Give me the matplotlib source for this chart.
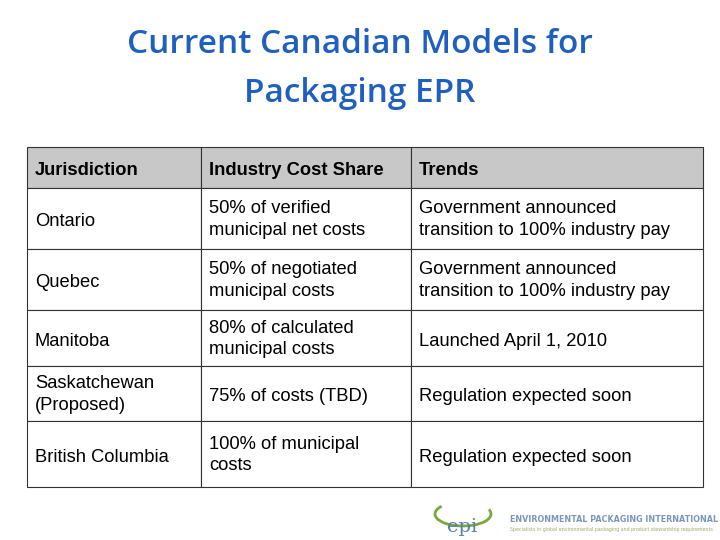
import matplotlib.pyplot as plt
from matplotlib.patches import Rectangle, Arc

title = "Current Canadian Models for\nPackaging EPR"
headers = ["Jurisdiction", "Industry Cost Share", "Trends"]
jurisdictions = ["Ontario", "Quebec", "Manitoba", "Saskatchewan\n(Proposed)", "British Columbia"]
cost_shares = [
    "50% of verified\nmunicipal net costs",
    "50% of negotiated\nmunicipal costs",
    "80% of calculated\nmunicipal costs",
    "75% of costs (TBD)",
    "100% of municipal\ncosts",
]
trends = [
    "Government announced\ntransition to 100% industry pay",
    "Government announced\ntransition to 100% industry pay",
    "Launched April 1, 2010",
    "Regulation expected soon",
    "Regulation expected soon",
]

col_x = [27, 201, 411, 703]
row_y = [147, 188, 249, 310, 366, 421, 487]

fig = plt.figure(figsize=(7.2, 5.4), dpi=100)
ax = fig.add_axes([0, 0, 1, 1])
ax.set_xlim(0, 720)
ax.set_ylim(540, 0)
ax.axis("off")

ax.text(360, 69, title, ha="center", va="center", fontsize=24, color="#1f5fbf",
        family="Open Sans", fontweight="semibold", linespacing=1.62)

rows = [headers] + [list(r) for r in zip(jurisdictions, cost_shares, trends)]
for i, row in enumerate(rows):
    y0, y1 = row_y[i], row_y[i + 1]
    for j, txt in enumerate(row):
        x0, x1 = col_x[j], col_x[j + 1]
        ax.add_patch(Rectangle((x0, y0), x1 - x0, y1 - y0,
                               facecolor="#c8c8c8" if i == 0 else "white",
                               edgecolor="#333333", linewidth=0.8))
        ax.text(x0 + 8, (y0 + y1) / 2 + 1, txt, ha="left",
                va="center_baseline" if "\n" not in txt else "center",
                fontsize=13.2, family="Liberation Sans",
                fontweight="bold" if i == 0 else "normal", linespacing=1.35)

# logo
ax.add_patch(Arc((463, 514), 56, 24, theta1=-10, theta2=200, color="#7aa83c", linewidth=2))
ax.text(462, 527, "epi", ha="center", va="center", fontsize=14, color="#5b7fa8",
        family="DejaVu Serif")
ax.text(510, 520, "ENVIRONMENTAL PACKAGING INTERNATIONAL", fontsize=5.8,
        color="#7b97b8", fontweight="bold", va="center")
ax.text(510, 530, "Specialists in global environmental packaging and product stewardship requirements",
        fontsize=3.4, color="#9aab6a", va="center")

fig.savefig("out.png", dpi=100)
